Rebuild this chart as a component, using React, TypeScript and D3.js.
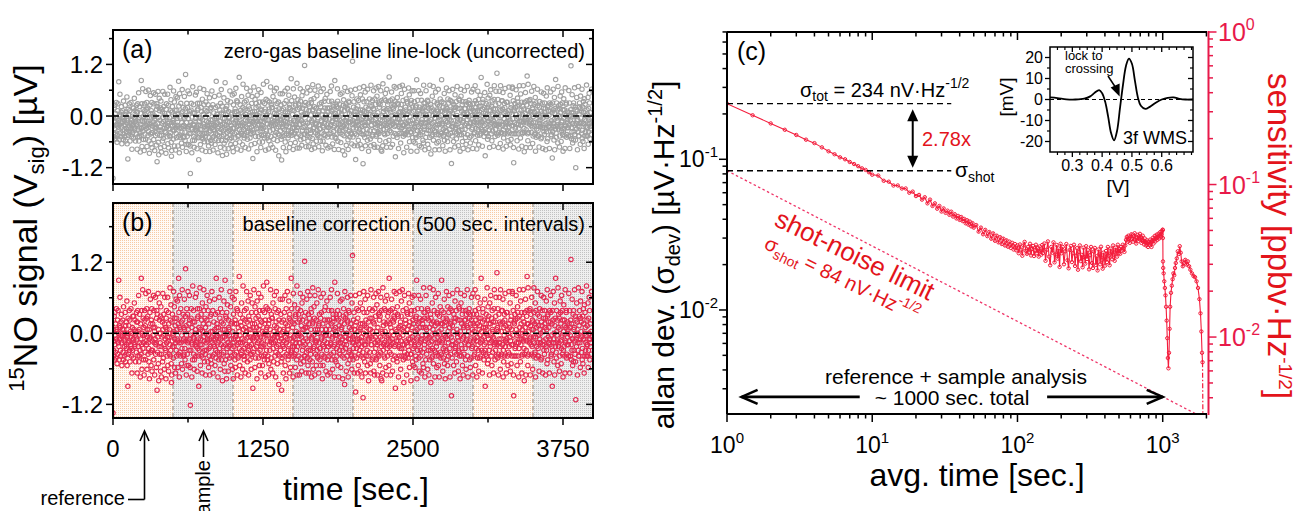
import React from "react";
import * as d3 from "d3";

const FONT = "'Liberation Sans', Arial, Helvetica, sans-serif";

// ---------------- panels (a)/(b): baseline-corrected 15NO signal ----------------
// two digits per sample (code 00..99), value = (code - SIGNAL_ZERO) * SIGNAL_STEP µV
const SIGNAL_CODE = `
0852413846 5944366149 4055375263 4751344657 3962504578 4336475469 5341384956 6045334852 4957403664 5246385043 4761355439 5644426733 4850225845 3954466241 5735485144 6342385029 4653415947 3759455266 4443574935 5148406156
4729566238 5143703552 3860454127 5547397944 6231504973 4258364553 2849625740 5436714658 4463315248 5939457242 3552264761 4868405533 5741633046 4155495370 3662455128 5347693944 4532586220 6040487134 5225436657 3950455930
6443273958 4856357152 3749604431 5569424753 4126586245 5238486933 4661305548 3952447438 5741653424 2856466043 5049377251 4364324758 5429456841 3858524767 4632553979 6145277053 4052386345 5634494273 3157466038 4753396852
4236598446 5428496333 3960457252 4633554170 5747321249 4158634527 5344367556 4862394731 3656504469 5238437146 4530586342 5947382253 4163507444 3352476038 5744296651 4037554873 6246354158 3953286445 5041577047 4635624932
5542386728 4759433651 6034487245 3851622947 4456394368 5233476041 3779485355 4940612745 5336466939 4258503163 4744735636 3961254852 5543406734 4852307844 3659475826 6142386550 4530575343 5249377240 4464335547 3856426931
5145266047 4368395536 5732487249 4055634428 6247375345 3851804233 4960455627 5439664147 4531587538 5246423662 3857294953 4463517240 5635434867 4128595246 5743367039 4852314461 3966554721 5340487342 4655326450 3749586143
5326674845 4059377152 4633625441 5748296943 3856455133 6243487538 4450366155 3957274964 5241775336 4663384928 5534576244 4152467331 3760455849 5847296642 4535514870 5438634627 4056724353 6134485039 4462235746 3852496841
4960354720 5637684451 4329575246 6142387033 4855266345 3950477254 5236413867 4458296047 5732494179 4063385643 5346277148 3855436539 4732596045 5141367528 4356634950 6038452857 4549716234 3754483066 5241576943 4635525938
8844385361 4729564068 5337467233 4160295549 5844367041 3952636127 4847355574 5631424964 4358287046 5239455733 4666413852 3750735429 5545604236 4233586948 6147395226 4455337143 5038624657 3764495230 4952416745 5736285443
4362384957 5229694445 3955736236 4748315660 5840435227 4477364953 5135605842 3849716233 4657274554 6041394867 4532565243 5368384726 4150596344 3755237248 5842466030 4450385769 5634274762 4061534136 4947705539 5238316645
9148364257 4561295249 3854701944 5642376346 4729585133 6244394771 4152306655 5338484327 4663554016 3750726144 5435466829 4457384953 6141337046 3856254752 4963405834 5229734448 4458366251 3747566930 5540286345 4859427136
5137654428 4653397260 3845576133 5940486926 4362255147 5029744154 4456386345 3751676232 5544287048 4238595649 6147337943 4055466228 5339446851 4763305745 3656495972 5843386121 4452714637 5135646049 4659275343 3848724254
5631465967 4238527344 4962365124 5344704038 3757465563 4528615239 6043374771 4154663256 5047396025 3962455369 4835574233 5546706244 4332515838 3659477826 5241634855 4470375630 5853454168 3846296347 4957405534 5332746142
4458276146 5336704952 3947586331 6241455728 4853367444 4160245849 5537466642 3852733456 4762415027 5440694538 4356326155 6045487133 3851275946 4964405537 5239786245 4655305842 3761496834 5443265648 4158724036 5747336451
4538617049 5342276355 3956481744 6237547146 4451336058 5640296742 4358456235 3952735048 5746304164 4063385726 5149716644 3855426033 4762284853 5439705745 4257366231 6046544973 3853274461 5144635836 4660325547 3757694250
5243287155 4660385147 3954736233 5742466027 4855376944 4163305852 5437496645 3858795141 4746295663 6140534836 4457684122 5339456050 3852745734 4964364759 5541286645 4355704938 5846336252 4051485629 4763734445 3656415969
4552388244 5337635128 3960476945 5643317355 4751396238 6244566827 4135534960 3857714346 5446296145 4761385233 5040557243 3953486630 4657345944 5238727149 4462281756 3855466042 5743387052 4549335864 6138504527 4259735347
5035674455 4761293852 3958477346 5642256139 4853685028 4146596280 5538337455 3951466245 4763285448 6044396952 4357315638 5248746145 3955406627 4862375343 5645726038 4238544930 5963475245 4550367056 3754624429 5146586941
4439625553 5828474367 4152347359 3660485645 5345296244 4756706138 3949435522 6241577247 4535506628 5458437945 4037625149 5746337453 4360455830 3852676146 5534427048 4962395727 4151654354 5738297345 4653616237 3944564850
5244387155 4662295349 3857894436 5541684733 4760356252 4153734639 5935155747 4366495628 5045417438 3854596245 4732675851 5640487236 4259344763 5547296550 3861534145 4938754457 5444386632 4158506947 6236475543 4551397248
`;
const SIGNAL_ZERO = 50;
const SIGNAL_STEP = 0.032; // µV per code step
const RECORD_END = 3990; // s
const baselineOffset = [-0.1, -0.12, -0.06, -0.04, -0.02, -0.05, -0.03, -0.08]; // per 500 s interval (µV)
const intervalEdges = [0, 500, 1000, 1500, 2000, 2500, 3000, 3500, 4000];
const timeTicks = [0, 1250, 2500, 3750];
const timeMinorTicks = [625, 1875, 3125];
const signalTicks = [-1.2, 0, 1.2];
const signalMinorTicks = [-0.6, 0.6, 1.8];

// ---------------- panel (c): Allan deviation [tau (s), sigma (µV·Hz^-1/2)] ----------------
const allanEarly = [
  [1, 0.234], [1.5, 0.196], [2, 0.173], [2.5, 0.157], [3, 0.145], [3.5, 0.135], [4, 0.128], [4.5, 0.12],
  [5, 0.113], [5.5, 0.108], [6, 0.103], [6.5, 0.1], [7, 0.096], [7.5, 0.093], [8, 0.09], [8.5, 0.087],
  [9, 0.085], [9.5, 0.082], [10, 0.079],
  [11, 0.078], [12, 0.072], [13, 0.071], [14, 0.067], [15, 0.067], [16, 0.064], [17, 0.064], [18, 0.06],
  [19, 0.061], [20, 0.057], [21, 0.058], [22, 0.054], [23, 0.056], [24, 0.051], [25, 0.054], [26, 0.049],
  [27, 0.051], [28, 0.047], [29, 0.049], [30, 0.045],
];
// mid range: tau list and sigma in units of 1e-4 µV·Hz^-1/2
const allanMidTau = [
  31, 32, 33, 34, 35, 36, 37, 38, 39, 40, 41, 42, 43, 44, 45, 46, 47, 48, 49, 50,
  52, 54, 56, 58, 60, 62, 64, 66, 68, 70, 72, 74, 76, 78, 80, 82, 84, 86, 88, 90, 92, 94, 96, 98, 100,
  102, 104, 106, 108, 110, 112, 114, 116, 118, 120, 122, 124, 126, 128, 130, 132, 134, 136, 138, 140, 142, 144, 146, 148, 150,
  153, 156, 159, 162, 165, 168, 171, 174, 177, 180, 183, 186, 189, 192, 195, 198, 201,
  205, 209, 213, 217, 221, 225, 229, 233, 237, 241, 245, 249, 253, 257, 261, 265, 269, 273, 277, 281, 285, 289, 293, 297, 301,
  306, 311, 316, 321, 326, 331, 336, 341, 346, 351, 356, 361, 366, 371, 376, 381, 386, 391, 396, 401,
  407, 413, 419, 425, 431, 437, 443, 449, 455, 461, 467, 473, 479, 485, 491, 497, 503,
  510, 517, 524, 531, 538, 545, 552, 559, 566, 573, 580, 587, 594, 601,
  609, 617, 625, 633, 641, 649, 657, 665, 673, 681, 689, 697, 705, 713, 721, 729, 737, 745, 753, 761, 769, 777, 785, 793, 801,
  810, 819, 828, 837, 846, 855, 864, 873, 882, 891, 900, 909, 918, 927, 936, 945, 954, 963, 972, 981, 990, 999,
];
const allanMidDev = [
  472, 441, 456, 428, 449, 417, 432, 405, 421, 396, 414, 389, 402, 376, 394, 368, 386, 359, 377, 352,
  366, 331, 352, 318, 340, 309, 329, 297, 322, 288, 311, 281, 304, 274, 297, 268, 290, 263, 284, 258, 279, 252, 274, 249, 268,
  238, 272, 251, 229, 268, 283, 247, 236, 262, 241, 275, 230, 254, 266, 228, 249, 271, 238, 257, 226, 264, 245, 233, 270, 239,
  276, 212, 251, 285, 226, 198, 262, 240, 281, 207, 233, 270, 219, 256, 193, 275, 238,
  262, 201, 245, 274, 214, 189, 250, 266, 208, 238, 271, 196, 229, 257, 185, 243, 268, 211, 232, 192, 259, 224, 203, 265, 218,
  249, 186, 231, 262, 205, 190, 244, 258, 199, 227, 183, 252, 236, 201, 263, 214, 188, 240, 226, 197,
  246, 208, 262, 229, 198, 255, 241, 217, 268, 233, 212, 259, 247, 226, 271, 238, 254,
  236, 262, 248, 271, 255, 243, 268, 292, 305, 284, 311, 296, 279, 307,
  318, 296, 284, 309, 323, 291, 276, 302, 315, 288, 297, 320, 305, 279, 293, 311, 287, 272, 298, 283, 268, 290, 276, 262, 284,
  271, 293, 279, 262, 288, 301, 276, 294, 310, 285, 299, 316, 292, 305, 321, 298, 312, 329, 306, 318, 333, 341,
];
const allanTail = [
  [1000, 0.034], [1002, 0.03], [1004, 0.021], [1008, 0.019], [1015, 0.0175], [1025, 0.0155], [1035, 0.014],
  [1045, 0.0125], [1055, 0.0105], [1065, 0.0085], [1075, 0.0065], [1085, 0.0048], [1095, 0.0041], [1105, 0.0052],
  [1115, 0.0075], [1125, 0.0105], [1140, 0.013], [1155, 0.0145], [1170, 0.016], [1185, 0.0175], [1200, 0.017],
  [1215, 0.019], [1230, 0.0205], [1250, 0.022], [1270, 0.0245], [1290, 0.0235], [1310, 0.0265], [1330, 0.024],
  [1350, 0.021], [1375, 0.0195], [1400, 0.0205], [1430, 0.0215], [1460, 0.02], [1490, 0.021], [1520, 0.0195],
  [1550, 0.0185], [1590, 0.0175], [1630, 0.0168], [1670, 0.0165], [1710, 0.0155], [1750, 0.014], [1790, 0.0118],
  [1820, 0.0095], [1845, 0.0072], [1865, 0.0052], [1880, 0.0045],
];
const allanDropEnd = [[1880, 0.0045], [1890, 0.00204]];
const shotNoiseLine = [[1, 0.084], [2018, 0.00187]];
const sigmaTot = 0.234;
const sigmaShot = 0.084;
const refLineEnd = 35;
const ratioArrow = { tau: 19, top: 0.215, bottom: 0.088 };
const spanArrowSigma = 0.00265;
const spanArrowLeft = [8.2, 1.26];
const spanArrowRight = [160, 1000];

// ---------------- inset: 3f WMS line shape [V, mV] ----------------
const insetCurve = [
  [0.225, 1.0], [0.25, 0.7], [0.28, 0.1], [0.31, 0.0], [0.34, 0.4], [0.36, 1.5], [0.375, 3.2], [0.39, 4.5],
  [0.4, 3.0], [0.41, -1.0], [0.42, -8], [0.43, -16], [0.44, -19.5], [0.45, -15], [0.46, -4], [0.47, 7],
  [0.48, 16], [0.49, 19.5], [0.5, 17], [0.51, 9], [0.52, 1], [0.53, -3], [0.545, -4.5], [0.56, -3.5],
  [0.58, -1.5], [0.6, 0.0], [0.62, 0.8], [0.64, 1.0], [0.66, 0.3], [0.68, 0.0], [0.705, 0.0],
];
const insetVTicks = [0.3, 0.4, 0.5, 0.6];
const insetVMinor = [0.25, 0.275, 0.325, 0.35, 0.375, 0.425, 0.45, 0.475, 0.525, 0.55, 0.575, 0.625, 0.65, 0.675, 0.7];
const insetMVTicks = [-20, -10, 0, 10, 20];
const insetMVMinor = [-15, -5, 5, 15];
const lockPoint = [0.462, 0];

const RED_CURVE = "#f41c3c";
const RED_AXIS = "#e8194a";
const RED_TEXT = "#e3141b";
const PINK_PTS = "#e42a52";
const GRAY_PTS = "#a0a0a0";

function logTicks(domain) {
  const [a, b] = domain;
  const out = [];
  for (let e = Math.floor(Math.log10(a)); e <= Math.ceil(Math.log10(b)); e++) {
    for (let k = 1; k <= 9; k++) {
      const v = k * Math.pow(10, e);
      if (v >= a * 0.999 && v <= b * 1.001) out.push({ v, major: k === 1, e });
    }
  }
  return out;
}

function decodeSignal(src) {
  const out = [];
  src.trim().split(/\s+/).forEach((grp) => {
    for (let k = 0; k + 1 < grp.length; k += 2) out.push((parseInt(grp.slice(k, k + 2), 10) - SIGNAL_ZERO) * SIGNAL_STEP);
  });
  return out;
}

export default function App() {
  const corrected = decodeSignal(SIGNAL_CODE);
  const n = corrected.length;
  const times = corrected.map((_, i) => (i * RECORD_END) / (n - 1));
  const raw = corrected.map((v, i) => v + baselineOffset[Math.min(7, Math.floor(times[i] / 500))]);

  const allanData = [
    ...allanEarly,
    ...allanMidTau.map((t, i) => [t, allanMidDev[i] * 1e-4]),
    ...allanTail,
  ];

  const L = 113, R = 593;
  const xA = d3.scaleLinear().domain([0, 4000]).range([L, R]);
  const yA = d3.scaleLinear().domain([-1.58, 2.0]).range([184, 30]);
  const yB = d3.scaleLinear().domain([-1.43, 2.2]).range([418, 203]);

  const cL = 727, cR = 1207, cT = 32, cB = 414;
  const xC = d3.scaleLog().domain([1, 2018]).range([cL, cR]);
  const yC = d3.scaleLog().domain([0.00204, 0.6994]).range([cB, cT]);
  const yR = d3.scaleLog().domain([0.00313, 1]).range([cB, cT]);

  const iL = 1050, iR = 1193, iT = 47, iB = 152;
  const xI = d3.scaleLinear().domain([0.225, 0.705]).range([iL, iR]);
  const yI = d3.scaleLinear().domain([-25, 25]).range([iB, iT]);

  const allanLine = d3.line().x((d) => xC(d[0])).y((d) => yC(d[1]));
  const insetLine = d3.line().x((d) => xI(d[0])).y((d) => yI(d[1])).curve(d3.curveCatmullRom.alpha(0.5));

  const fmt1 = (v) => v.toFixed(1);

  const timePanel = (yS, top, bottom, label, values, color, showLabels, letter, shaded) => (
    <g>
      {shaded &&
        intervalEdges.slice(0, -1).map((e, i) => (
          <rect key={"bg" + i} x={xA(e)} y={top} width={xA(intervalEdges[i + 1]) - xA(e)} height={bottom - top}
            fill={i % 2 === 0 ? "url(#patOrange)" : "url(#patGray)"} />
        ))}
      {shaded &&
        intervalEdges.slice(1, -1).map((e, i) => (
          <line key={"sep" + i} x1={xA(e)} x2={xA(e)} y1={top} y2={bottom} stroke="#a0948a" strokeWidth={1.2} strokeDasharray="4,3" />
        ))}
      <g clipPath={shaded ? "url(#clipB)" : "url(#clipA)"}>
        {values.map((v, i) => (
          <circle key={i} cx={xA(times[i])} cy={yS(v)} r={2.2} fill="none" stroke={color} strokeWidth={1.1} />
        ))}
      </g>
      <line x1={L} x2={R} y1={yS(0)} y2={yS(0)} stroke="#000" strokeWidth={1.4} strokeDasharray="6,4" />
      {signalTicks.map((t) => (
        <g key={"yt" + t}>
          <line x1={L - 7} x2={L} y1={yS(t)} y2={yS(t)} stroke="#000" strokeWidth={1.5} />
          <line x1={R - 7} x2={R} y1={yS(t)} y2={yS(t)} stroke="#000" strokeWidth={1.5} />
          <text x={L - 10} y={yS(t) + 8.5} textAnchor="end" fontSize={24}>{fmt1(t)}</text>
        </g>
      ))}
      {signalMinorTicks.map((t) => (
        <g key={"ym" + t}>
          <line x1={L - 4} x2={L} y1={yS(t)} y2={yS(t)} stroke="#000" strokeWidth={1.5} />
          <line x1={R - 4} x2={R} y1={yS(t)} y2={yS(t)} stroke="#000" strokeWidth={1.5} />
        </g>
      ))}
      {timeTicks.map((t) => (
        <g key={"xt" + t}>
          <line x1={xA(t)} x2={xA(t)} y1={bottom} y2={bottom + 7} stroke="#000" strokeWidth={1.5} />
          <line x1={xA(t)} x2={xA(t)} y1={top} y2={top + 7} stroke="#000" strokeWidth={1.5} />
          {showLabels && <text x={xA(t)} y={457} textAnchor="middle" fontSize={24}>{t}</text>}
        </g>
      ))}
      {timeMinorTicks.map((t) => (
        <g key={"xm" + t}>
          <line x1={xA(t)} x2={xA(t)} y1={bottom} y2={bottom + 4.5} stroke="#000" strokeWidth={1.5} />
          <line x1={xA(t)} x2={xA(t)} y1={top} y2={top + 4.5} stroke="#000" strokeWidth={1.5} />
        </g>
      ))}
      <rect x={L} y={top} width={R - L} height={bottom - top} fill="none" stroke="#000" strokeWidth={2} />
      <text x={122} y={top + 28} fontSize={25}>{letter}</text>
      <text x={585} y={top + 28} textAnchor="end" fontSize={20}>{label}</text>
    </g>
  );

  const xTicksC = logTicks(xC.domain());
  const yTicksC = logTicks(yC.domain());
  const yTicksR = logTicks(yR.domain());

  const chevron = (tipX, tipY, dir) => {
    const s = dir === "left" ? 1 : -1;
    return `${tipX + s * 16},${tipY - 7} ${tipX},${tipY} ${tipX + s * 16},${tipY + 7}`;
  };

  return (
    <svg width={1299} height={511} viewBox="0 0 1299 511" fontFamily={FONT}
      style={{ position: "absolute", left: 0, top: 0, background: "#fff" }}>
      <defs>
        <pattern id="patOrange" width="2" height="2" patternUnits="userSpaceOnUse">
          <rect width="2" height="2" fill="#fffaf6" />
          <rect x="0" y="0" width="1" height="1" fill="#f7caa4" />
        </pattern>
        <pattern id="patGray" width="2" height="2" patternUnits="userSpaceOnUse">
          <rect width="2" height="2" fill="#efefef" />
          <rect x="0" y="0" width="1" height="1" fill="#c2c2c2" />
        </pattern>
        <clipPath id="clipA"><rect x={L} y={30} width={R - L} height={154} /></clipPath>
        <clipPath id="clipB"><rect x={L} y={203} width={R - L} height={215} /></clipPath>
        <clipPath id="clipC"><rect x={cL} y={cT} width={cR - cL} height={cB - cT} /></clipPath>
      </defs>
      <rect x={0} y={0} width={1299} height={511} fill="#fff" />

      {timePanel(yA, 30, 184, "zero-gas baseline line-lock (uncorrected)", raw, GRAY_PTS, false, "(a)", false)}
      {timePanel(yB, 203, 418, "baseline correction (500 sec. intervals)", corrected, PINK_PTS, true, "(b)", true)}

      <text transform="translate(37,228) rotate(-90)" textAnchor="middle" fontSize={34}>
        <tspan dy={-13} fontSize={22}>15</tspan>
        <tspan dy={13}>NO signal (V</tspan>
        <tspan dy={7} fontSize={22}>sig</tspan>
        <tspan dy={-7}>) [µV]</tspan>
      </text>
      <text x={356} y={500} textAnchor="middle" fontSize={32}>time [sec.]</text>

      <line x1={144.5} x2={144.5} y1={433} y2={499.5} stroke="#000" strokeWidth={1.6} />
      <line x1={128} x2={144.5} y1={499.5} y2={499.5} stroke="#000" strokeWidth={1.6} />
      <polyline points="140,441 144.5,431 149,441" fill="none" stroke="#000" strokeWidth={1.6} />
      <text x={125} y={505} textAnchor="end" fontSize={20}>reference</text>
      <line x1={203.5} x2={203.5} y1={433} y2={457} stroke="#000" strokeWidth={1.6} />
      <polyline points="199,441 203.5,431 208,441" fill="none" stroke="#000" strokeWidth={1.6} />
      <text transform="translate(210,460) rotate(-90)" textAnchor="end" fontSize={20}>sample</text>

      <g clipPath="url(#clipC)">
        <path d={allanLine(shotNoiseLine)} fill="none" stroke="#ef3568" strokeWidth={1.3} strokeDasharray="2.5,2.5" />
        <path d={allanLine(allanData)} fill="none" stroke={RED_CURVE} strokeWidth={1.1} />
        {allanData.map((d, i) => (
          <circle key={i} cx={xC(d[0])} cy={yC(d[1])} r={1.7} fill="none" stroke={RED_CURVE} strokeWidth={1} />
        ))}
        <path d={allanLine(allanDropEnd)} fill="none" stroke={RED_CURVE} strokeWidth={1.2} strokeDasharray="5,2,1.5,2" />
      </g>
      <line x1={xC(1)} x2={xC(refLineEnd)} y1={yC(sigmaTot)} y2={yC(sigmaTot)} stroke="#000" strokeWidth={1.4} strokeDasharray="6,4" />
      <line x1={xC(1)} x2={xC(refLineEnd)} y1={yC(sigmaShot)} y2={yC(sigmaShot)} stroke="#000" strokeWidth={1.4} strokeDasharray="6,4" />
      <text x={800} y={97} fontSize={20}>σ<tspan dy={4} fontSize={14}>tot</tspan><tspan dy={-4}> = 234 nV·Hz</tspan><tspan dy={-9} fontSize={14}>-1/2</tspan></text>
      <text x={955} y={177} fontSize={21}>σ<tspan dy={5} fontSize={14}>shot</tspan></text>
      <line x1={xC(ratioArrow.tau)} x2={xC(ratioArrow.tau)} y1={yC(ratioArrow.top) + 8} y2={yC(ratioArrow.bottom) - 8} stroke="#000" strokeWidth={2} />
      <polygon points={`${xC(ratioArrow.tau)},${yC(ratioArrow.top)} ${xC(ratioArrow.tau) - 5.5},${yC(ratioArrow.top) + 12} ${xC(ratioArrow.tau) + 5.5},${yC(ratioArrow.top) + 12}`} fill="#000" />
      <polygon points={`${xC(ratioArrow.tau)},${yC(ratioArrow.bottom)} ${xC(ratioArrow.tau) - 5.5},${yC(ratioArrow.bottom) - 12} ${xC(ratioArrow.tau) + 5.5},${yC(ratioArrow.bottom) - 12}`} fill="#000" />
      <text x={922} y={146} fontSize={20} fill={RED_TEXT}>2.78x</text>

      <g transform="translate(773,225) rotate(26)">
        <text x={0} y={0} fontSize={26} fill={RED_TEXT}>shot-noise limit</text>
        <text x={1} y={25} fontSize={20} fill={RED_TEXT}>σ<tspan dy={5} fontSize={14}>shot</tspan><tspan dy={-5}> = 84 nV·Hz</tspan><tspan dy={-9} fontSize={14}>-1/2</tspan></text>
      </g>

      <line x1={xC(spanArrowLeft[0])} x2={xC(spanArrowLeft[1])} y1={yC(spanArrowSigma)} y2={yC(spanArrowSigma)} stroke="#000" strokeWidth={2.6} />
      <polyline points={chevron(xC(spanArrowLeft[1]), yC(spanArrowSigma), "left")} fill="none" stroke="#000" strokeWidth={2.6} />
      <line x1={xC(spanArrowRight[0])} x2={xC(spanArrowRight[1])} y1={yC(spanArrowSigma)} y2={yC(spanArrowSigma)} stroke="#000" strokeWidth={2.6} />
      <polyline points={chevron(xC(spanArrowRight[1]), yC(spanArrowSigma), "right")} fill="none" stroke="#000" strokeWidth={2.6} />
      <text x={956} y={384} textAnchor="middle" fontSize={21}>reference + sample analysis</text>
      <text x={952} y={405} textAnchor="middle" fontSize={21}>~ 1000 sec. total</text>

      {xTicksC.map((t, i) => (
        <g key={"cx" + i}>
          <line x1={xC(t.v)} x2={xC(t.v)} y1={cB} y2={cB + (t.major ? 8 : 4.5)} stroke="#000" strokeWidth={1.5} />
          <line x1={xC(t.v)} x2={xC(t.v)} y1={cT} y2={cT + (t.major ? 8 : 4.5)} stroke="#000" strokeWidth={1.5} />
          {t.major && (
            <text x={xC(t.v)} y={453} textAnchor="middle" fontSize={23}>10<tspan dy={-10} fontSize={15}>{t.e}</tspan></text>
          )}
        </g>
      ))}
      {yTicksC.map((t, i) => (
        <g key={"cy" + i}>
          <line x1={cL - (t.major ? 8 : 4.5)} x2={cL} y1={yC(t.v)} y2={yC(t.v)} stroke="#000" strokeWidth={1.5} />
          {t.major && (
            <text x={718} y={yC(t.v) + 8} textAnchor="end" fontSize={23}>10<tspan dy={-10} fontSize={15}>{t.e}</tspan></text>
          )}
        </g>
      ))}
      <line x1={cL} x2={cR} y1={cT} y2={cT} stroke="#000" strokeWidth={2} />
      <line x1={cL} x2={cR} y1={cB} y2={cB} stroke="#000" strokeWidth={2} />
      <line x1={cL} x2={cL} y1={cT} y2={cB} stroke="#000" strokeWidth={2} />
      <line x1={cR + 1.5} x2={cR + 1.5} y1={cT - 1} y2={cB + 1} stroke={RED_AXIS} strokeWidth={2} />
      {yTicksR.map((t, i) => (
        <g key={"cr" + i}>
          <line x1={cR + 1.5} x2={cR + 1.5 + (t.major ? 8 : 4.5)} y1={yR(t.v)} y2={yR(t.v)} stroke={RED_AXIS} strokeWidth={1.5} />
          {t.major && (
            <text x={1218} y={yR(t.v) + 9} fontSize={25} fill={RED_AXIS}>10<tspan dy={-11} fontSize={16}>{t.e}</tspan></text>
          )}
        </g>
      ))}
      <text x={977} y={486} textAnchor="middle" fontSize={32}>avg. time [sec.]</text>
      <text transform="translate(674,255) rotate(-90)" textAnchor="middle" fontSize={30}>
        allan dev. (σ<tspan dy={6} fontSize={20}>dev</tspan><tspan dy={-6}>) [µV·Hz</tspan><tspan dy={-12} fontSize={20}>-1/2</tspan><tspan dy={12}>]</tspan>
      </text>
      <text transform="translate(1268,236) rotate(90)" textAnchor="middle" fontSize={33} fill={RED_TEXT}>
        sensitivity [ppbv·Hz<tspan dy={-11} fontSize={19}>-1/2</tspan><tspan dy={11}>]</tspan>
      </text>
      <text x={737} y={60} fontSize={25}>(c)</text>

      <rect x={iL} y={iT} width={iR - iL} height={iB - iT} fill="#fff" />
      <line x1={iL} x2={iR} y1={yI(0)} y2={yI(0)} stroke="#000" strokeWidth={1.2} strokeDasharray="4,3" />
      <path d={insetLine(insetCurve)} fill="none" stroke="#000" strokeWidth={1.8} />
      {insetMVTicks.map((t) => (
        <g key={"imy" + t}>
          <line x1={iL - 5} x2={iL} y1={yI(t)} y2={yI(t)} stroke="#000" strokeWidth={1.3} />
          <line x1={iR - 5} x2={iR} y1={yI(t)} y2={yI(t)} stroke="#000" strokeWidth={1.3} />
          <text x={iL - 7} y={yI(t) + 5.5} textAnchor="end" fontSize={16}>{t}</text>
        </g>
      ))}
      {insetMVMinor.map((t) => (
        <g key={"imm" + t}>
          <line x1={iL - 3} x2={iL} y1={yI(t)} y2={yI(t)} stroke="#000" strokeWidth={1.2} />
          <line x1={iR - 3} x2={iR} y1={yI(t)} y2={yI(t)} stroke="#000" strokeWidth={1.2} />
        </g>
      ))}
      {insetVTicks.map((t) => (
        <g key={"ivx" + t}>
          <line x1={xI(t)} x2={xI(t)} y1={iB} y2={iB + 5} stroke="#000" strokeWidth={1.3} />
          <line x1={xI(t)} x2={xI(t)} y1={iT} y2={iT + 5} stroke="#000" strokeWidth={1.3} />
          <text x={xI(t)} y={171} textAnchor="middle" fontSize={16}>{t.toFixed(1)}</text>
        </g>
      ))}
      {insetVMinor.map((t) => (
        <g key={"ivm" + t}>
          <line x1={xI(t)} x2={xI(t)} y1={iB} y2={iB + 3} stroke="#000" strokeWidth={1.2} />
          <line x1={xI(t)} x2={xI(t)} y1={iT} y2={iT + 3} stroke="#000" strokeWidth={1.2} />
        </g>
      ))}
      <rect x={iL} y={iT} width={iR - iL} height={iB - iT} fill="none" stroke="#000" strokeWidth={1.5} />
      <text x={1065} y={59.5} fontSize={13}>lock to</text>
      <text x={1065} y={72.5} fontSize={13}>crossing</text>
      <line x1={1108} x2={xI(lockPoint[0]) - 3} y1={76} y2={yI(lockPoint[1]) - 9} stroke="#000" strokeWidth={1.5} />
      <polygon points={`${xI(lockPoint[0]) - 1},${yI(lockPoint[1]) - 3} ${xI(lockPoint[0]) - 10},${yI(lockPoint[1]) - 12} ${xI(lockPoint[0]) - 1},${yI(lockPoint[1]) - 16}`} fill="#000" />
      <text x={1123} y={144} fontSize={18}>3f WMS</text>
      <text transform="translate(1013,97) rotate(-90)" textAnchor="middle" fontSize={19}>[mV]</text>
      <text x={1118} y={193} textAnchor="middle" fontSize={19}>[V]</text>
    </svg>
  );
}
